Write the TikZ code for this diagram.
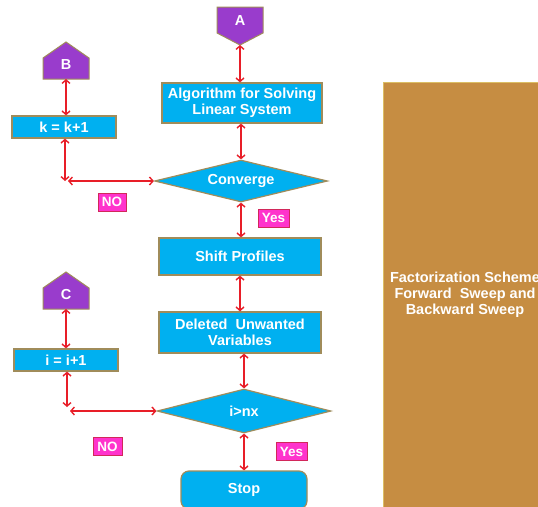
\documentclass[tikz,border=0pt]{standalone}
\usepackage{fontspec}
\setmainfont{Liberation Sans}
\usetikzlibrary{shapes.geometric,arrows.meta}
\definecolor{boxblue}{RGB}{0,176,240}
\definecolor{boxedge}{RGB}{160,140,90}
\definecolor{conpurple}{RGB}{153,60,204}
\definecolor{labpink}{RGB}{255,51,204}
\definecolor{labedge}{RGB}{210,40,90}
\definecolor{linkred}{RGB}{232,30,40}
\definecolor{panelbrown}{RGB}{198,141,66}
\definecolor{paneledge}{RGB}{220,190,100}
\tikzset{
  txt/.style={text=white, font=\fontsize{14.5}{16}\selectfont\bfseries, align=center},
  procbox/.style={txt, draw=boxedge, fill=boxblue, line width=1.2pt, inner sep=0pt},
  decide/.style={txt, diamond, draw=boxedge, fill=boxblue, line width=1.2pt, inner sep=0pt, aspect=4},
  offpage/.style={draw=boxedge, fill=conpurple, line width=1pt},
  answer/.style={text=white, font=\fontsize{13.5}{15}\selectfont\bfseries, draw=labedge, fill=labpink,
    line width=1pt, inner sep=0pt, minimum height=18pt},
  link/.style={{Straight Barb[length=3.5pt,width=8pt]}-{Straight Barb[length=3.5pt,width=8pt]}, draw=linkred, line width=1.4pt}
}
\begin{document}
\begin{tikzpicture}[x=1pt, y=-1pt]
\clip (0,0) rectangle (538,506);
\fill[white] (0,0) rectangle (538,506);

\fill[panelbrown, draw=paneledge, line width=1pt] (383,82) rectangle (550,520);
\node[txt] (fs) at (465,295) {Factorization Scheme\\Forward~~Sweep and\\Backward Sweep};

% off-page connectors
\draw[offpage] (217,7) -- (263,7) -- (263,33) -- (240,45) -- (217,33) -- cycle;
\coordinate (Atip) at (240,45);
\node[txt] (A) at (240,21) {A};
\draw[offpage] (66,42) -- (89,58) -- (89,79) -- (43,79) -- (43,58) -- cycle;
\coordinate (Bfoot) at (66,79);
\node[txt] (B) at (66,65) {B};
\draw[offpage] (66,272) -- (89,288) -- (89,309) -- (43,309) -- (43,288) -- cycle;
\coordinate (Cfoot) at (66,309);
\node[txt] (C) at (66,295) {C};

\node[procbox, minimum width=160pt, minimum height=40pt] (alg) at (242,103) {Algorithm for Solving\\Linear System};
\node[decide, minimum width=173pt, minimum height=42pt] (conv) at (241,181) {Converge};
\node[procbox, minimum width=104pt, minimum height=22pt] (kinc) at (64,127) {k = k+1};
\coordinate (kc) at (65,181);
\node[answer, minimum width=28pt] (no1) at (112,202) {NO};
\node[answer, minimum width=31pt] (yes1) at (273.5,218) {Yes};

\node[procbox, minimum width=162pt, minimum height=37pt] (shift) at (240,256.5) {Shift Profiles};
\node[procbox, minimum width=162pt, minimum height=41pt] (del) at (240,332.5) {Deleted~~Unwanted\\Variables};
\node[procbox, minimum width=104pt, minimum height=22pt] (iinc) at (66,360) {i = i+1};
\node[decide, minimum width=174pt, minimum height=44pt] (gt) at (244,411) {i>nx};
\coordinate (ic) at (67,407);
\node[answer, minimum width=29pt] (no2) at (107.5,446.5) {NO};
\node[answer, minimum width=31pt] (yes2) at (291.5,451.5) {Yes};
\node[procbox, rounded corners=8pt, minimum width=126pt, minimum height=38pt] (stop) at (244,490) {Stop};

\draw[link] (Atip) -- (Atip |- alg.north);
\draw[link] (conv.north |- alg.south) -- (conv.north);
\draw[link] (conv.south) -- (conv.south |- shift.north);
\draw[link] (shift.south) -- (del.north);
\draw[link] (gt.north |- del.south) -- (gt.north);
\draw[link] (gt.south) -- (stop.north);
\draw[link] (Bfoot) -- (Bfoot |- kinc.north);
\draw[link] (kinc.south -| kc) -- (kc);
\draw[link] ([xshift=3pt]kc) -- (conv.west);
\draw[link] (Cfoot) -- (Cfoot |- iinc.north);
\draw[link] (iinc.south -| ic) -- (ic);
\draw[link] ([xshift=3pt, yshift=-4pt]ic) -- (gt.west);
\end{tikzpicture}
\end{document}
